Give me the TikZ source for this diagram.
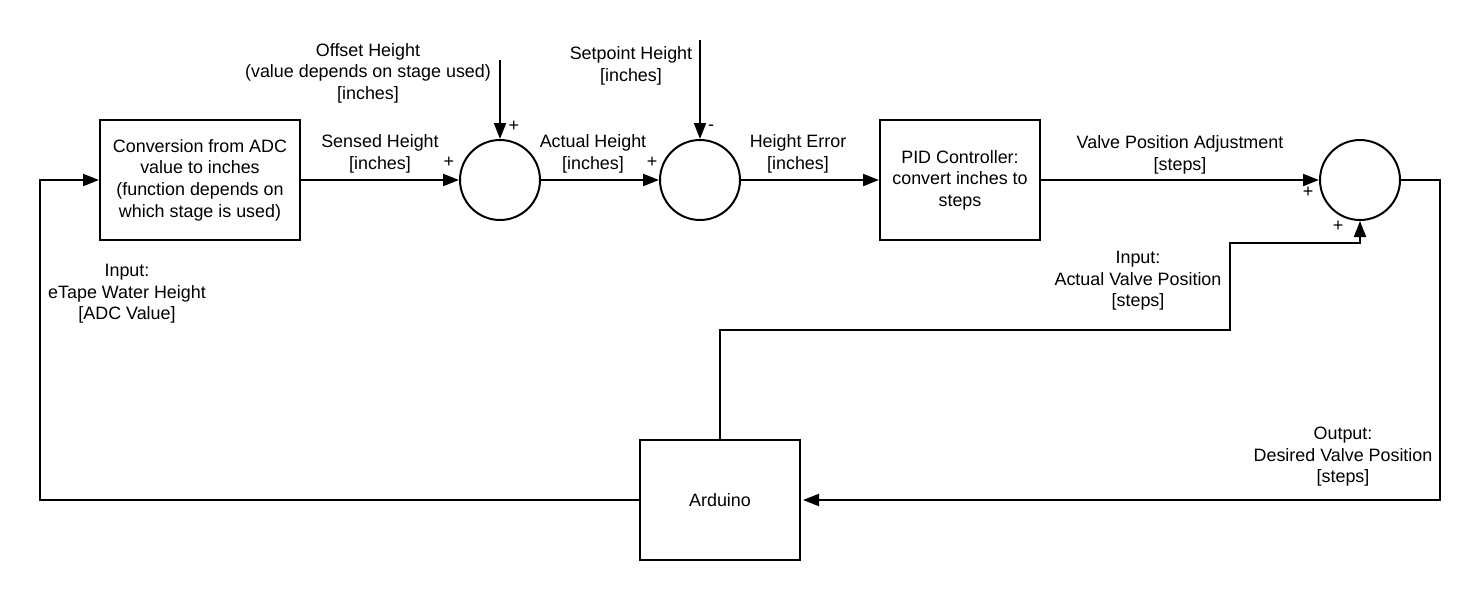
\documentclass[tikz,border=0pt]{standalone}
\usepackage{fontspec}
\setmainfont{Liberation Sans}
\usetikzlibrary{arrows.meta}
\begin{document}
\begin{tikzpicture}[x=1pt,y=-1pt,
  every node/.style={font=\fontsize{17.9}{21.6}\selectfont, align=center, inner sep=0pt},
  blk/.style={draw, line width=2pt, minimum width=200pt, minimum height=120pt},
  sumc/.style={draw, circle, line width=2pt, minimum size=80pt},
  sgn/.style={font=\fontsize{18}{20}\selectfont},
  lbl/.style={},
  wire/.style={line width=2pt},
  arr/.style={wire, -{Triangle[length=16pt,width=12pt]}}
]
\useasboundingbox (0,0) rectangle (1481,600);
\fill[white] (0,0) rectangle (1481,600);

% blocks
\node[blk] (b1) at (200,180) {Conversion from ADC\\value to inches\\(function depends on\\which stage is used)};
\node[blk, minimum width=160pt] (pid) at (960,180) {PID Controller:\\convert inches to\\steps};
\node[blk, minimum width=160pt] (ard) at (720,500) {Arduino};

% summing junctions
\node[sumc] (c1) at (500,180) {};
\node[sumc] (c2) at (700,180) {};
\node[sumc] (c3) at (1360,180) {};

% external inputs
\coordinate (o1) at (500,60);
\coordinate (s1) at (700,40);

% routing points
\coordinate (k1) at (1230,330);
\coordinate (k2) at (1230,243);
\coordinate (k3) at (1440,180);
\coordinate (k4) at (40,180);

% connectors
\draw[arr] (b1.east) -- (c1.west);
\draw[arr] (c1.east) -- (c2.west);
\draw[arr] (c2.east) -- (pid.west);
\draw[arr] (pid.east) -- (c3.west);
\draw[arr] (o1) -- (c1.north);
\draw[arr] (s1) -- (c2.north);
\draw[arr, shorten >=2pt] (c3.east) -- (k3) |- (ard.east);
\draw[arr] (ard.north) |- (k1) -- (k2) -| (c3.south);
\draw[arr] (ard.west) -| (k4) -- (b1.west);

% labels
\node[lbl] (lo) at (368,73) {Offset Height\\(value depends on stage used)\\{[inches]}};
\node[lbl] (ls) at (631,66) {Setpoint Height\\{[inches]}};
\node[lbl] (lsh) at (380,154) {Sensed Height\\{[inches]}};
\node[lbl] (lah) at (593,154) {Actual Height\\{[inches]}};
\node[lbl] (lhe) at (798,154) {Height Error\\{[inches]}};
\node[lbl] (lvp) at (1180,155) {Valve Position Adjustment\\{[steps]}};
\node[lbl] (lin) at (127,294) {Input:\\eTape Water Height\\{[ADC Value]}};
\node[lbl] (lav) at (1138,281) {Input:\\Actual Valve Position\\{[steps]}};
\node[lbl] (lout) at (1343,457) {Output:\\Desired Valve Position\\{[steps]}};

% signs
\node[sgn] (p1) at (449,162) {+};
\node[sgn] (p2) at (514,126) {+};
\node[sgn] (p3) at (652,162) {+};
\node[sgn] (m1) at (711,128) {-};
\node[sgn] (p4) at (1308,192) {+};
\node[sgn] (p5) at (1338,226) {+};
\end{tikzpicture}
\end{document}
